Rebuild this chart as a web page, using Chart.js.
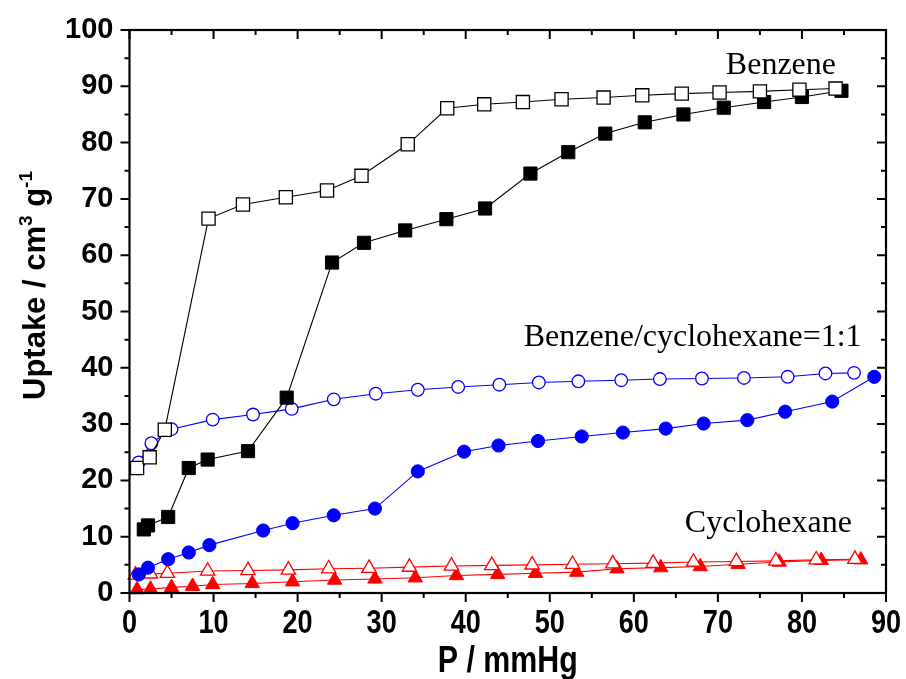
<!DOCTYPE html>
<html>
<head>
<meta charset="utf-8">
<script src="https://cdn.jsdelivr.net/npm/chart.js@4.4.1/dist/chart.umd.min.js"></script>
<style>
  html, body { margin: 0; padding: 0; background: #fff; }
  #wrap { width: 906px; height: 679px; }
</style>
</head>
<body>
<div id="wrap"><canvas id="uptakeChart" width="906" height="679"></canvas></div>
<script>
// pressure (mmHg) and uptake (cm3/g)
const benzeneAdsP = [1.7, 2.2, 4.6, 7.05, 9.3, 14.1, 18.7, 24.1, 27.9, 32.8, 37.7, 42.3, 47.7, 52.2, 56.6, 61.3, 65.9, 70.7, 75.5, 80.0, 84.7];
const benzeneAdsU = [11.3, 12.0, 13.5, 22.2, 23.7, 25.2, 34.7, 58.7, 62.2, 64.4, 66.4, 68.3, 74.5, 78.3, 81.6, 83.6, 85.0, 86.2, 87.2, 88.1, 89.2];
const benzeneDesP = [0.9, 2.4, 4.2, 9.4, 13.5, 18.6, 23.5, 27.6, 33.1, 37.8, 42.2, 46.8, 51.4, 56.4, 61.0, 65.7, 70.2, 75.0, 79.7, 84.0];
const benzeneDesU = [22.2, 24.1, 29.0, 66.5, 69.0, 70.3, 71.5, 74.1, 79.7, 86.1, 86.8, 87.2, 87.7, 88.0, 88.4, 88.7, 88.9, 89.1, 89.4, 89.6];

const mixAdsP = [1.1, 2.2, 4.6, 7.05, 9.5, 15.9, 19.4, 24.3, 29.2, 34.3, 39.8, 43.9, 48.6, 53.8, 58.7, 63.8, 68.3, 73.5, 78.0, 83.6, 88.6];
const mixAdsU = [3.3, 4.5, 6.0, 7.2, 8.5, 11.1, 12.4, 13.8, 15.0, 21.6, 25.1, 26.2, 27.0, 27.8, 28.5, 29.2, 30.1, 30.7, 32.2, 34.0, 38.4];
const mixDesP = [1.1, 2.6, 5.0, 9.9, 14.7, 19.3, 24.3, 29.3, 34.3, 39.1, 44.0, 48.7, 53.4, 58.5, 63.1, 68.1, 73.1, 78.3, 82.8, 86.2];
const mixDesU = [23.2, 26.6, 29.1, 30.8, 31.7, 32.7, 34.4, 35.4, 36.1, 36.6, 37.0, 37.4, 37.6, 37.8, 38.0, 38.1, 38.2, 38.4, 39.0, 39.1];

const cycAdsP = [0.9, 2.5, 5.0, 7.5, 9.9, 14.6, 19.4, 24.4, 29.2, 34.0, 38.9, 43.8, 48.3, 53.2, 58.0, 63.2, 67.9, 72.4, 77.3, 82.3, 87.0];
const cycAdsU = [0.6, 0.7, 1.0, 1.2, 1.5, 1.7, 2.0, 2.3, 2.5, 2.7, 3.1, 3.3, 3.5, 3.7, 4.3, 4.5, 4.7, 5.1, 5.5, 5.8, 5.9];
const cycDesP = [0.7, 2.5, 4.5, 9.3, 14.1, 18.9, 23.7, 28.5, 33.3, 38.3, 43.1, 47.9, 52.7, 57.5, 62.3, 67.1, 72.2, 76.9, 81.7, 86.3];
const cycDesU = [3.2, 3.4, 3.5, 3.9, 4.0, 4.1, 4.3, 4.4, 4.6, 4.8, 4.9, 5.0, 5.1, 5.2, 5.3, 5.5, 5.6, 5.7, 5.9, 6.0];

const xTicks = [0, 10, 20, 30, 40, 50, 60, 70, 80, 90];
const yTicks = [0, 10, 20, 30, 40, 50, 60, 70, 80, 90, 100];

// curve labels: [text, P, uptake] (uptake = baseline)
const curveLabels = [
  ['Benzene', 77.5, 92.1],
  ['Benzene/cyclohexane=1:1', 67.0, 43.9],
  ['Cyclohexane', 76.0, 10.9]
];

const pts = (xs, ys) => xs.map((x, i) => ({x: x, y: ys[i]}));

function series(xs, ys, color, shape, open, r){
  return {
    data: pts(xs, ys),
    showLine: true,
    borderColor: color,
    borderWidth: 1.1,
    pointStyle: shape,
    pointRadius: r,
    pointHoverRadius: r,
    pointBackgroundColor: open ? '#ffffff' : color,
    pointBorderColor: color,
    pointBorderWidth: open ? 1.3 : 1,
    clip: false
  };
}

const narrowBold = (size) => 'bold ' + size + 'px "Liberation Sans", Arial, sans-serif';

const axisFrame = {
  id: 'axisFrame',
  afterDraw(chart){
    const ctx = chart.ctx;
    const a = chart.chartArea;
    const xs = chart.scales.x, ys = chart.scales.y;
    ctx.save();
    ctx.strokeStyle = '#000';
    ctx.lineWidth = 2.2;
    ctx.strokeRect(a.left, a.top, a.right - a.left, a.bottom - a.top);
    ctx.lineWidth = 2;
    ctx.beginPath();
    for (let v = 0; v <= 90; v += 5){
      const px = xs.getPixelForValue(v);
      const len = v % 10 === 0 ? 9 : 5;
      ctx.moveTo(px, a.bottom); ctx.lineTo(px, a.bottom + len);
      ctx.moveTo(px, a.top); ctx.lineTo(px, a.top + len);
    }
    for (let v = 0; v <= 100; v += 5){
      const py = ys.getPixelForValue(v);
      const len = v % 10 === 0 ? 9 : 5;
      ctx.moveTo(a.left, py); ctx.lineTo(a.left - len, py);
      ctx.moveTo(a.right, py); ctx.lineTo(a.right - len, py);
    }
    ctx.stroke();

    // x tick labels and title, condensed like the original
    ctx.fillStyle = '#000';
    ctx.textAlign = 'center';
    ctx.textBaseline = 'alphabetic';
    xTicks.forEach(v => {
      ctx.save();
      ctx.translate(xs.getPixelForValue(v), 633);
      ctx.scale(0.82, 1);
      ctx.font = narrowBold(33);
      ctx.fillText(String(v), 0, 0);
      ctx.restore();
    });
    ctx.save();
    ctx.translate((a.left + a.right) / 2, 672);
    ctx.scale(0.82, 1);
    ctx.font = narrowBold(37);
    ctx.fillText('P / mmHg', 0, 0);
    ctx.restore();

    // curve names
    ctx.font = '32px "Liberation Serif", "Times New Roman", serif';
    curveLabels.forEach(l => {
      ctx.fillText(l[0], xs.getPixelForValue(l[1]), ys.getPixelForValue(l[2]));
    });

    // y axis title with superscripts
    ctx.translate(45, (a.top + a.bottom) / 2 - 26);
    ctx.rotate(-Math.PI / 2);
    const big = 'bold 31px "Liberation Sans", Arial, sans-serif';
    const small = 'bold 19px "Liberation Sans", Arial, sans-serif';
    const parts = [['Uptake / cm', big, 0], ['3', small, -13], [' g', big, 0], ['-1', small, -13]];
    let total = 0;
    parts.forEach(p => { ctx.font = p[1]; total += ctx.measureText(p[0]).width; });
    let cx = -total / 2;
    ctx.textAlign = 'left';
    parts.forEach(p => {
      ctx.font = p[1];
      ctx.fillText(p[0], cx, p[2]);
      cx += ctx.measureText(p[0]).width;
    });
    ctx.restore();
  }
};

const chart = new Chart(document.getElementById('uptakeChart').getContext('2d'), {
  type: 'scatter',
  data: {
    datasets: [
      series(benzeneDesP, benzeneDesU, '#000000', 'rect', true, 9.3),
      series(benzeneAdsP, benzeneAdsU, '#000000', 'rect', false, 9.3),
      series(mixDesP, mixDesU, '#0000ff', 'circle', true, 6.3),
      series(mixAdsP, mixAdsU, '#0000ff', 'circle', false, 6.6),
      series(cycDesP, cycDesU, '#ff0000', 'triangle', true, 8.3),
      series(cycAdsP, cycAdsU, '#ff0000', 'triangle', false, 8.3)
    ]
  },
  options: {
    responsive: false,
    animation: false,
    events: [],
    layout: { padding: { left: 0, right: 20, top: 30, bottom: 0 } },
    plugins: { legend: { display: false }, tooltip: { enabled: false } },
    scales: {
      x: {
        type: 'linear', min: 0, max: 90,
        grid: { display: false },
        border: { display: false },
        ticks: { display: false },
        afterFit: s => { s.height = 86; s.paddingLeft = 0; s.paddingRight = 0; }
      },
      y: {
        type: 'linear', min: 0, max: 100,
        grid: { display: false },
        border: { display: false },
        afterBuildTicks: s => { s.ticks = yTicks.map(v => ({value: v})); },
        afterFit: s => { s.width = 129.5; s.paddingTop = 0; s.paddingBottom = 0; },
        ticks: {
          padding: 8, color: '#000',
          font: { family: '"Liberation Sans", Arial, sans-serif', weight: 'bold', size: 29 }
        }
      }
    }
  },
  plugins: [axisFrame]
});
</script>
</body>
</html>
